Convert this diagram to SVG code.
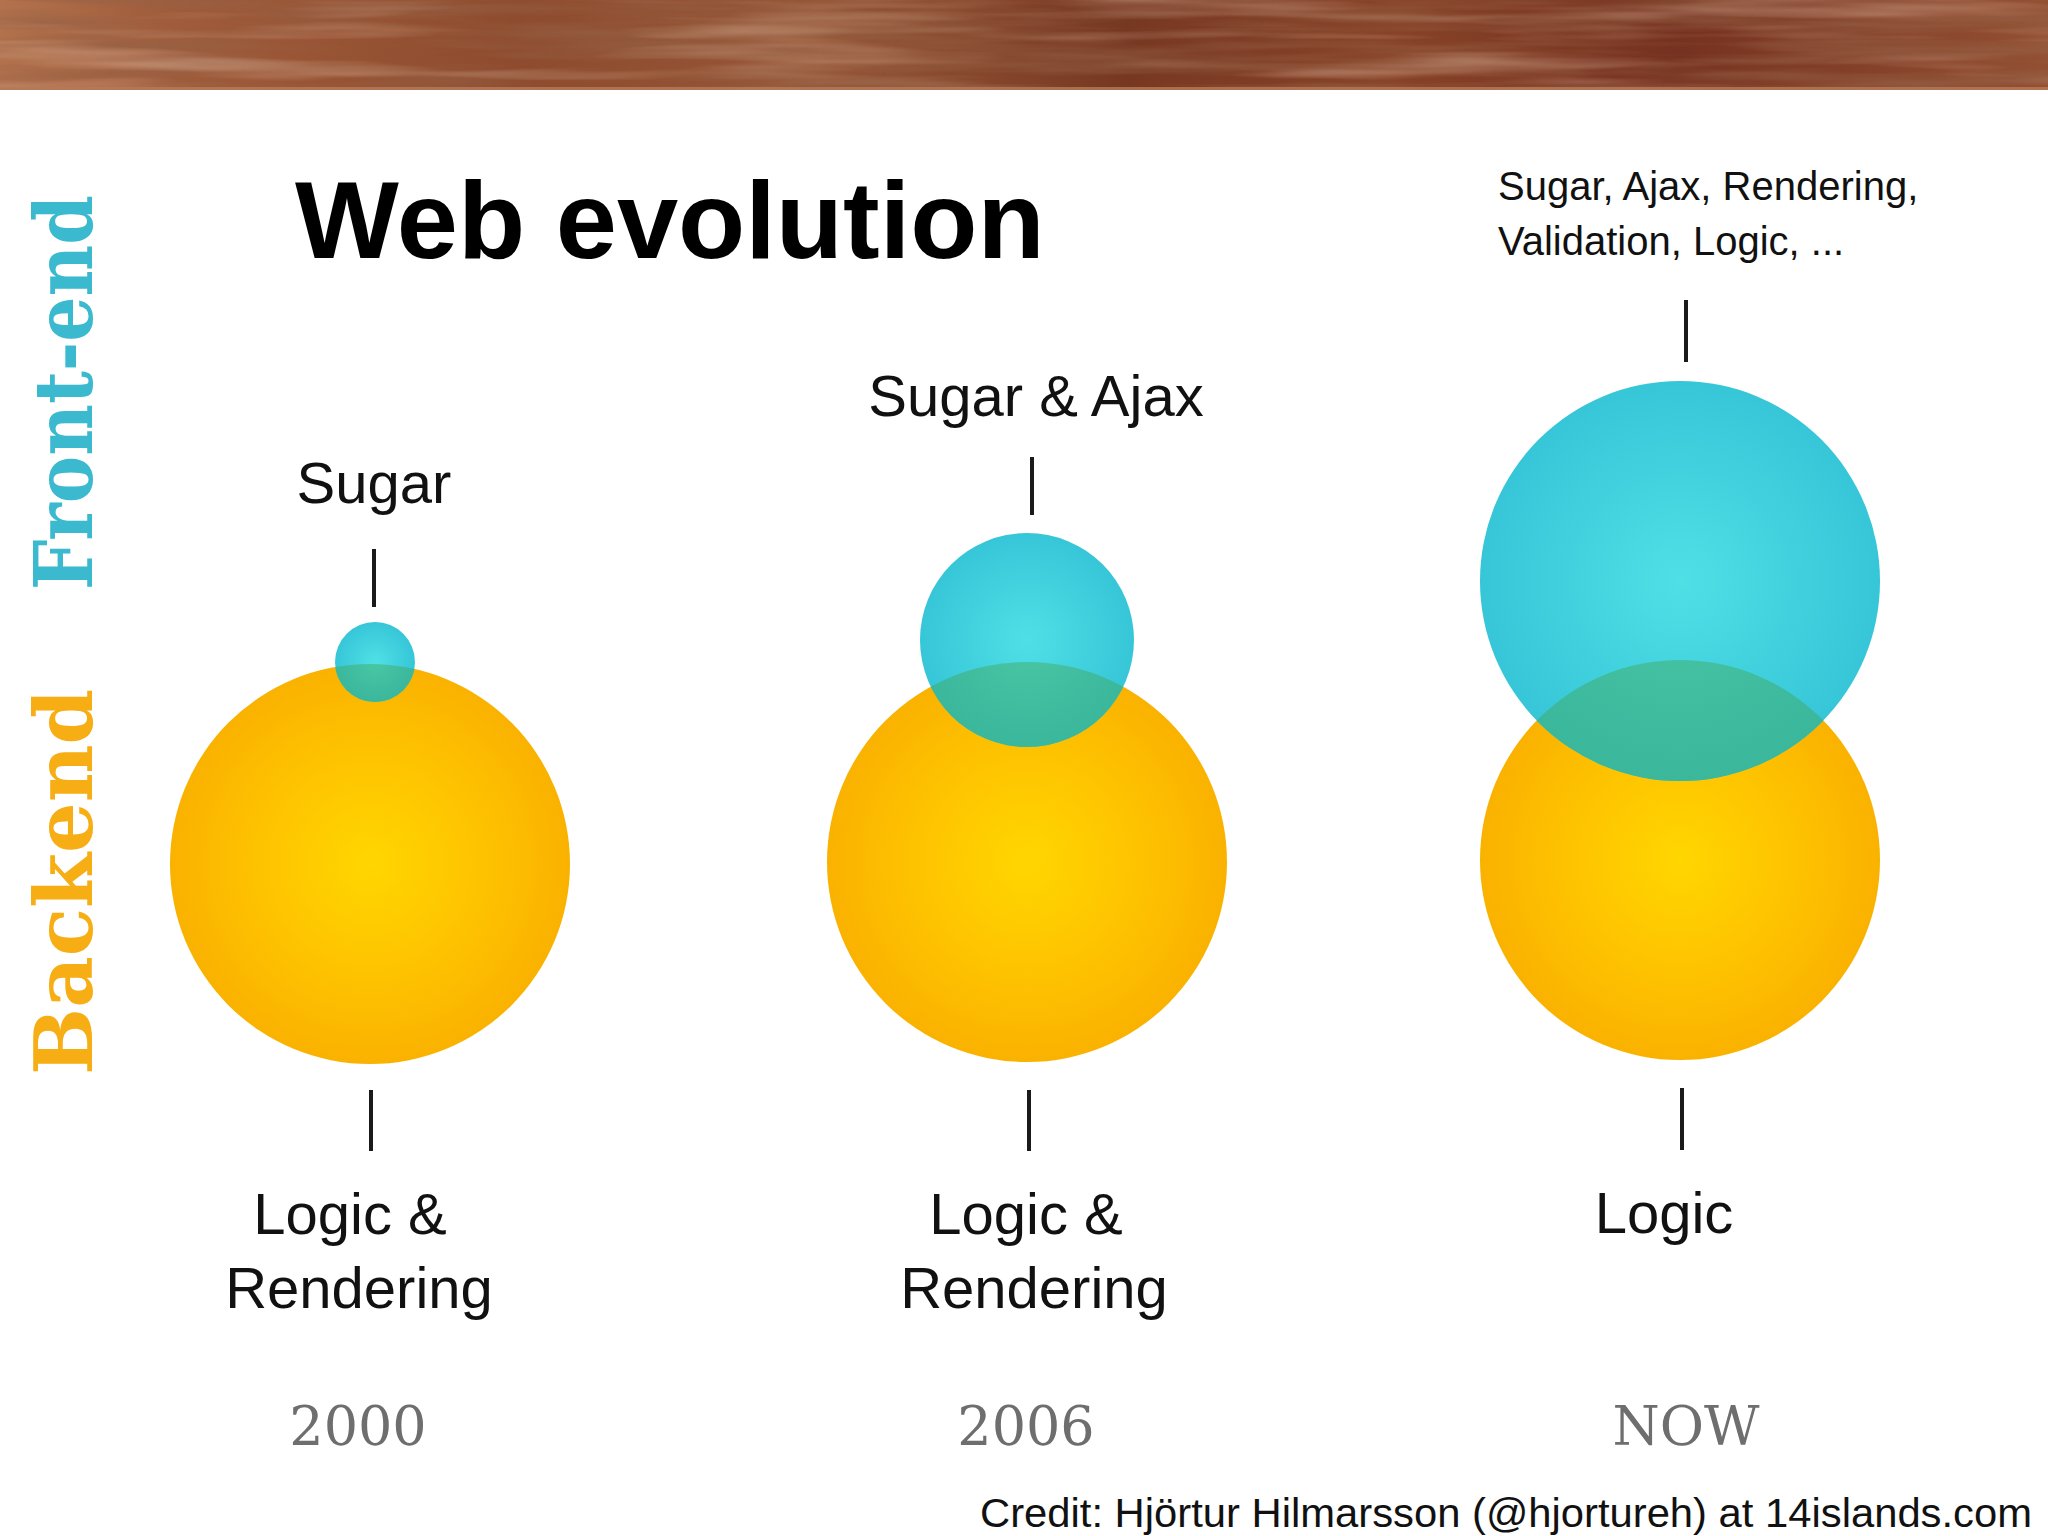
<svg xmlns="http://www.w3.org/2000/svg" width="2048" height="1536" viewBox="0 0 2048 1536">
  <style>
    .lbl { font-family: "Liberation Sans", Arial, sans-serif; fill: #111; }
    .big { font-size: 58px; text-anchor: middle; }
    .year { font-family: "DejaVu Serif", "Liberation Serif", serif; font-size: 54px; fill: #6e6e6e; text-anchor: middle; }
    .side { font-family: "DejaVu Serif", "Liberation Serif", serif; font-weight: bold; font-size: 80px; }
    .tick { stroke: #1a1a1a; stroke-width: 4; stroke-linecap: butt; }
    .orange { fill: url(#gOrange); }
    .teal { fill: url(#gTeal); }
    .lens { fill: url(#gLens); }
  </style>
  <defs>
    <radialGradient id="gOrange" cx="50%" cy="50%" r="50%">
      <stop offset="0" stop-color="#ffd600"/>
      <stop offset="0.55" stop-color="#fec300"/>
      <stop offset="1" stop-color="#fab200"/>
    </radialGradient>
    <radialGradient id="gTeal" cx="50%" cy="50%" r="50%">
      <stop offset="0" stop-color="#4fe0e6"/>
      <stop offset="1" stop-color="#36c6d8"/>
    </radialGradient>
    <radialGradient id="gLens" cx="50%" cy="50%" r="50%">
      <stop offset="0" stop-color="#48c7a4"/>
      <stop offset="1" stop-color="#3bb79c"/>
    </radialGradient>
    <linearGradient id="gWood" x1="0" y1="0" x2="1" y2="0">
      <stop offset="0" stop-color="#b3724d"/>
      <stop offset="0.08" stop-color="#a05c3b"/>
      <stop offset="0.25" stop-color="#8e4b2e"/>
      <stop offset="0.40" stop-color="#955637"/>
      <stop offset="0.55" stop-color="#773822"/>
      <stop offset="0.68" stop-color="#874228"/>
      <stop offset="0.82" stop-color="#763220"/>
      <stop offset="1" stop-color="#935033"/>
    </linearGradient>
    <filter id="grainDark" x="0" y="0" width="100%" height="100%">
      <feTurbulence type="fractalNoise" baseFrequency="0.004 0.07" numOctaves="3" seed="7"/>
      <feColorMatrix type="matrix" values="0 0 0 0 0.3  0 0 0 0 0.12  0 0 0 0 0.06  0 0 0 1.5 -0.55"/>
      <feComposite in2="SourceGraphic" operator="in"/>
    </filter>
    <filter id="grainLight" x="0" y="0" width="100%" height="100%">
      <feTurbulence type="fractalNoise" baseFrequency="0.003 0.05" numOctaves="3" seed="21"/>
      <feColorMatrix type="matrix" values="0 0 0 0 0.78  0 0 0 0 0.52  0 0 0 0 0.38  0 0 0 1.1 -0.55"/>
      <feComposite in2="SourceGraphic" operator="in"/>
    </filter>
    <clipPath id="clipO1"><circle cx="370" cy="864" r="200"/></clipPath>
    <clipPath id="clipO2"><circle cx="1027" cy="862" r="200"/></clipPath>
    <clipPath id="clipO3"><circle cx="1680" cy="860" r="200"/></clipPath>
  </defs>

  <rect width="2048" height="1536" fill="#ffffff"/>

  <g id="banner">
    <rect x="0" y="0" width="2048" height="90" fill="url(#gWood)"/>
    <rect x="0" y="0" width="2048" height="90" fill="#fff" filter="url(#grainDark)"/>
    <rect x="0" y="0" width="2048" height="90" fill="#fff" filter="url(#grainLight)"/>
    <rect x="0" y="87" width="2048" height="3" fill="#b87a58" opacity="0.8"/>
  </g>

  <g id="title">
    <text x="295" y="258" font-family="Liberation Sans, Arial, sans-serif" font-weight="bold" font-size="110" fill="#000">Web evolution</text>
  </g>

  <g id="side-labels">
    <text class="side" fill="#3ab9cf" transform="translate(92,590) rotate(-90)" textLength="395" lengthAdjust="spacingAndGlyphs">Front-end</text>
    <text class="side" fill="#f6ae14" transform="translate(92,1075) rotate(-90)" textLength="386" lengthAdjust="spacingAndGlyphs">Backend</text>
  </g>

  <g id="col-2000">
    <circle class="orange" cx="370" cy="864" r="200"/>
    <circle class="teal" cx="375" cy="662" r="40"/>
    <circle class="lens" cx="375" cy="662" r="40" clip-path="url(#clipO1)"/>
    <text class="lbl big" x="374" y="503" font-size="60">Sugar</text>
    <text class="lbl big" x="350" y="1234">Logic &amp;</text>
    <text class="lbl big" x="359" y="1308">Rendering</text>
    <text class="year" x="358" y="1445">2000</text>
  </g>

  <g id="col-2006">
    <circle class="orange" cx="1027" cy="862" r="200"/>
    <circle class="teal" cx="1027" cy="640" r="107"/>
    <circle class="lens" cx="1027" cy="640" r="107" clip-path="url(#clipO2)"/>
    <text class="lbl big" x="1036" y="416" font-size="60">Sugar &amp; Ajax</text>
    <text class="lbl big" x="1026" y="1234">Logic &amp;</text>
    <text class="lbl big" x="1034" y="1308">Rendering</text>
    <text class="year" x="1026" y="1445">2006</text>
  </g>

  <g id="col-now">
    <circle class="orange" cx="1680" cy="860" r="200"/>
    <circle class="teal" cx="1680" cy="581" r="200"/>
    <circle class="lens" cx="1680" cy="581" r="200" clip-path="url(#clipO3)"/>
    <text class="lbl" x="1498" y="200" font-size="40">Sugar, Ajax, Rendering,</text>
    <text class="lbl" x="1498" y="255" font-size="40">Validation, Logic, ...</text>
    <text class="lbl big" x="1664" y="1233">Logic</text>
    <text class="year" x="1686" y="1445">NOW</text>
  </g>

  <g id="connectors">
    <line class="tick" x1="374" y1="549" x2="374" y2="607"/>
    <line class="tick" x1="371" y1="1090" x2="371" y2="1151"/>
    <line class="tick" x1="1032" y1="457" x2="1032" y2="515"/>
    <line class="tick" x1="1029" y1="1090" x2="1029" y2="1151"/>
    <line class="tick" x1="1686" y1="300" x2="1686" y2="362"/>
    <line class="tick" x1="1682" y1="1088" x2="1682" y2="1150"/>
  </g>

  <g id="credit">
    <text class="lbl" x="980" y="1527" font-size="40" fill="#000" textLength="1052" lengthAdjust="spacingAndGlyphs">Credit: Hjörtur Hilmarsson (@hjortureh) at 14islands.com</text>
  </g>
</svg>
